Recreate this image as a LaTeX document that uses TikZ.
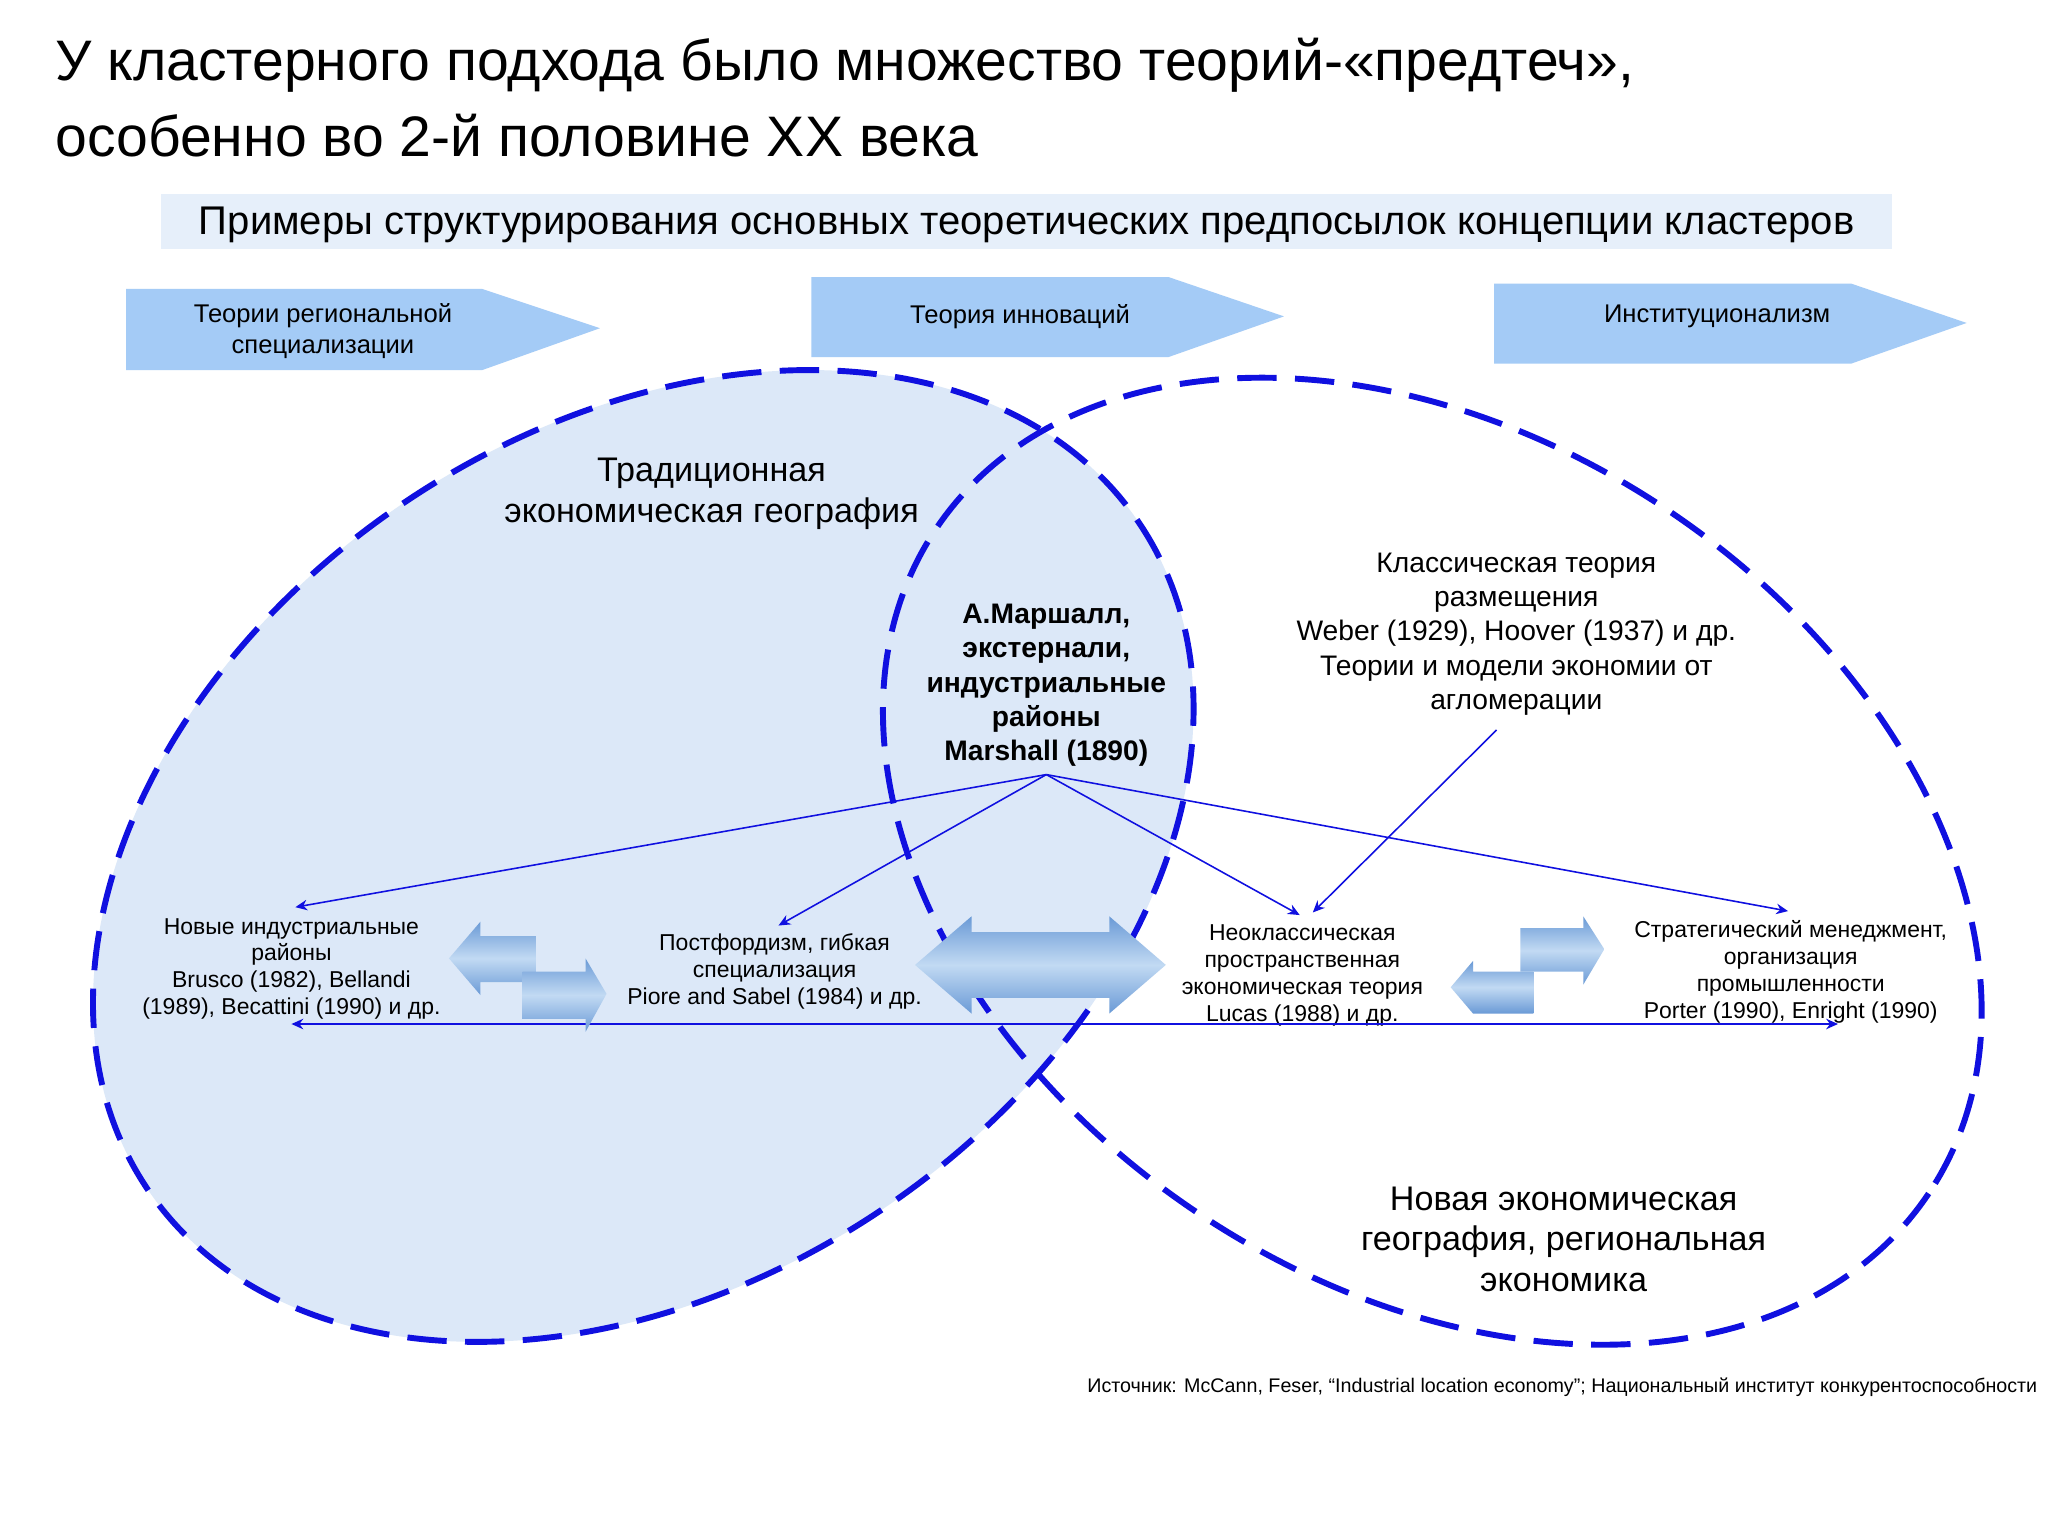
\documentclass[tikz,border=0pt]{standalone}
\usepackage{fontspec}
\setmainfont{Liberation Sans}
\usetikzlibrary{arrows.meta}
\begin{document}
\begin{tikzpicture}[x=1pt,y=-1pt,
  dline/.style={draw=dblue,line width=4.5pt,dash pattern=on 30pt off 14pt},
  conn/.style={draw=dblue,line width=1.2pt,-{Stealth[length=9pt,width=8pt]}},
  band/.style={fill=bandblue,draw=none},
  barrow/.style={draw=none,top color=ablue1,bottom color=ablue1,middle color=ablue2},
  lbl/.style={align=center,font=\fontsize{17.5}{20.5}\selectfont,inner sep=1pt}]
\definecolor{dblue}{HTML}{1010E0}
\definecolor{fillblue}{HTML}{DCE8F8}
\definecolor{bandblue}{HTML}{A4CBF6}
\definecolor{subband}{HTML}{E6EFFA}
\definecolor{ablue1}{HTML}{6A9AD6}
\definecolor{ablue2}{HTML}{C2DAF3}
\useasboundingbox (0,0) rectangle (1560,1170);
\fill[white] (0,0) rectangle (1560,1170);
% title
\node[anchor=west,font=\fontsize{43.5}{48}\selectfont,inner sep=0] (t1) at (42,50) {У кластерного подхода было множество теорий-«предтеч»,};
\node[anchor=west,font=\fontsize{43.5}{48}\selectfont,inner sep=0] (t2) at (42,103) {особенно во 2-й половине XX века};
\fill[subband] (123,148) rectangle (1441,190);
\node[font=\fontsize{30.5}{34}\selectfont] (sub) at (782,171) {Примеры структурирования основных теоретических предпосылок концепции кластеров};
% band arrows
\fill[band] (96,220)--(367,220)--(457,250)--(367,282)--(96,282)--cycle;
\node[lbl,font=\fontsize{19.5}{24}\selectfont] (b1) at (246,252) {Теории региональной\\специализации};
\fill[band] (618,211)--(890,211)--(978,241)--(890,272)--(618,272)--cycle;
\node[lbl,font=\fontsize{19.5}{24}\selectfont] (b2) at (777,241) {Теория инноваций};
\fill[band] (1138,216)--(1410,216)--(1498,246)--(1410,277)--(1138,277)--cycle;
\node[lbl,font=\fontsize{19.5}{24}\selectfont] (b3) at (1308,241) {Институционализм};
% ellipses
\fill[fillblue,shift={(490,652)},rotate=33.8] (0,0) ellipse [x radius=455,y radius=325];
\draw[dline,shift={(490,652)},rotate=33.8] (0,0) ellipse [x radius=455,y radius=325];
\draw[dline,shift={(1091,656)},rotate=-33.8] (0,0) ellipse [x radius=455,y radius=322];
% texts
\node[lbl,font=\fontsize{26}{31}\selectfont] (trad) at (542,376) {Традиционная\\экономическая география};
\node[lbl,font=\bfseries\fontsize{21.5}{26}\selectfont] (mar) at (797,522) {А.Маршалл,\\экстернали,\\индустриальные\\районы\\Marshall (1890)};
\node[lbl,font=\fontsize{21.5}{26}\selectfont] (cls) at (1155,483) {Классическая теория\\размещения\\Weber (1929), Hoover (1937) и др.\\Теории и модели экономии от\\агломерации};
\node[lbl] (n1) at (222,738) {Новые индустриальные\\районы\\Brusco (1982), Bellandi\\(1989), Becattini (1990) и др.};
\node[lbl] (n2) at (590,740) {Постфордизм, гибкая\\специализация\\Piore and Sabel (1984) и др.};
\node[lbl] (n3) at (992,743) {Неоклассическая\\пространственная\\экономическая теория\\Lucas (1988) и др.};
\node[lbl] (n4) at (1364,740) {Стратегический менеджмент,\\организация\\промышленности\\Porter (1990), Enright (1990)};
\node[lbl,font=\fontsize{26}{31}\selectfont] (neg) at (1191,944) {Новая экономическая\\география, региональная\\экономика};
\node[anchor=east,font=\fontsize{15}{17}\selectfont,inner sep=0] (src) at (1552,1057) {Источник: McCann, Feser, “Industrial location economy”; Национальный институт конкурентоспособности};
% connectors
\coordinate (m) at (797,590);
\coordinate (e1) at (225,691);
\coordinate (e2) at (593,705);
\coordinate (e3) at (990,697);
\coordinate (e4) at (1362,694);
\coordinate (c1) at (1140,556);
\coordinate (c2) at (1000,695);
\coordinate (h1) at (222,780);
\coordinate (h2) at (1400,780);
\draw[conn] (m) -- (e1);
\draw[conn] (m) -- (e2);
\draw[conn] (m) -- (e3);
\draw[conn] (m) -- (e4);
\draw[conn] (c1) -- (c2);
\draw[draw=dblue,line width=1.2pt,{Stealth[length=9pt,width=8pt]}-{Stealth[length=9pt,width=8pt]}] (h1) -- (h2);
% block arrows
\path[barrow] (697,735)--(740,698)--(740,710)--(845,710)--(845,698)--(888,735)--(845,772)--(845,760)--(740,760)--(740,772)--cycle;
\path[barrow] (342,730)--(366,702)--(366,713)--(408,713)--(408,748)--(366,748)--(366,758)--cycle;
\path[barrow] (462,757)--(446,730)--(446,740)--(398,740)--(398,776)--(446,776)--(446,786)--cycle;
\path[barrow] (1222,723)--(1206,698)--(1206,707)--(1158,707)--(1158,740)--(1206,740)--(1206,750)--cycle;
\path[barrow] (1105,752)--(1122,732)--(1122,740)--(1168,740)--(1168,772)--(1122,772)--cycle;
\end{tikzpicture}
\end{document}
